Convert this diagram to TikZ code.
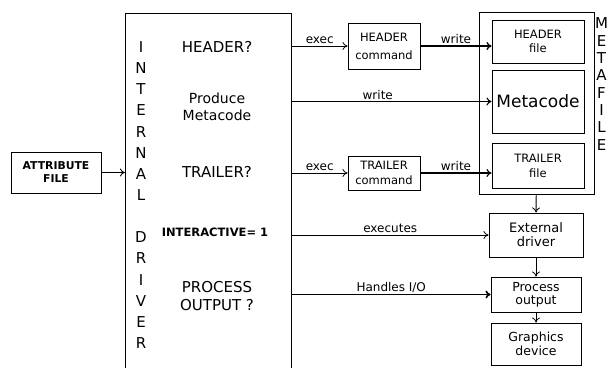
\documentclass[tikz,border=0pt]{standalone}
\usepackage{fontspec}
\setmainfont{DejaVu Sans}
\usetikzlibrary{arrows.meta}

\newcommand\fsz[2]{\fontsize{#1}{#2}\selectfont}

\tikzset{
  box/.style={draw,line width=.9pt,align=center,inner sep=1pt},
  lbl/.style={above,inner sep=1.5pt,font=\fsz{12}{13}},
  flow/.style={-{To[length=1.8mm,width=2.8mm]},line width=.8pt},
}

\begin{document}
\begin{tikzpicture}[x=1pt,y=-1pt]
  \useasboundingbox (0,0) rectangle (608,367);

  % input and driver
  \node[box,minimum width=90pt,minimum height=41pt,font=\bfseries\fsz{10.8}{13}] (attr) at (56,172.5) {ATTRIBUTE\\FILE};
  \node[draw,line width=.9pt,anchor=north west,minimum width=166pt,minimum height=380pt] (driver) at (125,13) {};
  \node[align=center,font=\fsz{15}{21.15}] (drvname) at (141,195)
    {I\\N\\T\\E\\R\\N\\A\\L\\\mbox{}\\D\\R\\I\\V\\E\\R};
  \node[font=\fsz{15}{18}] (hq) at (217,47) {HEADER?};
  \node[align=center,font=\fsz{14}{17}] (prod) at (217,107) {Produce\\Metacode};
  \node[font=\fsz{15}{18}] (tq) at (217,172) {TRAILER?};
  \node[font=\bfseries\fsz{11.5}{13}] (iq) at (215,232) {INTERACTIVE= 1};
  \node[align=center,font=\fsz{15}{18}] (pq) at (217,296) {PROCESS\\OUTPUT ?};

  % commands
  \node[box,minimum width=72pt,minimum height=46pt,font=\fsz{11.5}{18}] (hcmd) at (384,46) {HEADER\\command};
  \node[box,minimum width=72pt,minimum height=34pt,font=\fsz{11.5}{15}] (tcmd) at (384,173) {TRAILER\\command};

  % metafile
  \node[box,minimum width=115pt,minimum height=182pt] (mf) at (536.5,103) {};
  \node[box,minimum width=92pt,minimum height=43pt,font=\fsz{11.5}{14}] (hfile) at (538,41.5) {HEADER\\file};
  \node[box,minimum width=92pt,minimum height=63pt,font=\fsz{17}{19}] (meta) at (538,101.5) {Metacode};
  \node[box,minimum width=92pt,minimum height=45pt,font=\fsz{11.5}{15}] (tfile) at (538,165.5) {TRAILER\\file};
  \node[align=center,font=\fsz{15}{17.3}] (mflbl) at (601.5,84) {M\\E\\T\\A\\F\\I\\L\\E};

  % output chain
  \node[box,minimum width=94pt,minimum height=44pt,font=\fsz{13}{14}] (ext) at (536,235) {External\\driver};
  \node[box,minimum width=90pt,minimum height=35pt,font=\fsz{12.5}{12.5}] (proc) at (536,294.5) {Process\\output};
  \node[box,minimum width=90pt,minimum height=42pt,font=\fsz{12.5}{13.5}] (gdev) at (536,344) {Graphics\\device};

  \draw[flow] (attr) -- (attr -| driver.west);
  \draw[flow] (driver.east |- hcmd) -- node[lbl] {exec} (hcmd);
  \draw[flow,line width=1.3pt] (hcmd) -- node[lbl] {write} (hcmd -| hfile.west);
  \draw[flow,line width=1.1pt] (driver.east |- meta) -- node[lbl,pos=.43] {write} (meta);
  \draw[flow] (driver.east |- tcmd) -- node[lbl] {exec} (tcmd);
  \draw[flow,line width=1.1pt] (tcmd) -- node[lbl] {write} (tcmd -| tfile.west);
  \draw[flow] (driver.east |- ext) -- node[lbl] {executes} (ext);
  \draw[flow,line width=1.6pt] (driver.east |- proc) -- node[lbl] {Handles I/O} (proc);
  \draw[flow] (mf) -- (ext);
  \draw[flow] (ext) -- (proc);
  \draw[flow] (proc) -- (gdev);
\end{tikzpicture}
\end{document}
